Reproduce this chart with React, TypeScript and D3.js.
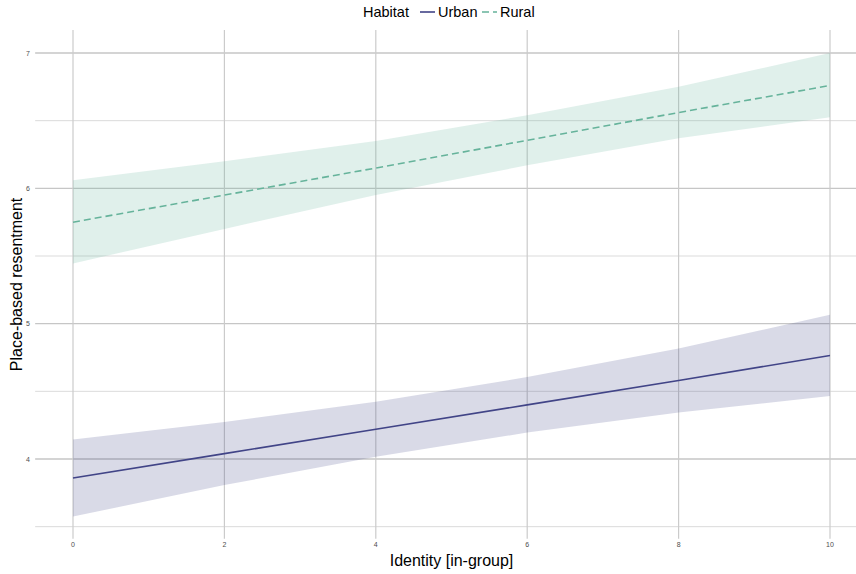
import React from "react";
import * as d3 from "d3";

const xValues = [0, 2, 4, 6, 8, 10];
const urbanFit = [3.86, 4.04, 4.22, 4.4, 4.58, 4.765];
const urbanUpper = [4.145, 4.273, 4.423, 4.605, 4.817, 5.065];
const urbanLower = [3.575, 3.807, 4.017, 4.195, 4.343, 4.465];
const ruralFit = [5.75, 5.95, 6.15, 6.355, 6.56, 6.76];
const ruralUpper = [6.06, 6.2, 6.35, 6.54, 6.75, 7.0];
const ruralLower = [5.445, 5.7, 5.95, 6.17, 6.37, 6.525];

const xTicks = [0, 2, 4, 6, 8, 10];
const yMajor = [4, 5, 6, 7];
const yMinor = [3.5, 4.5, 5.5, 6.5];

const W = 856;
const H = 574;

export default function App() {
  const x = d3.scaleLinear().domain([0, 10]).range([73, 830]);
  const y = d3.scaleLinear().domain([4, 7]).range([459, 53]);
  const panelLeft = x(-0.5);
  const panelRight = x(10.5);
  const panelTop = y(7.17);
  const panelBottom = y(3.41);

  const area = (up: number[], lo: number[]) =>
    d3
      .area<number>()
      .x((_, i) => x(xValues[i]))
      .y0((_, i) => y(lo[i]))
      .y1((_, i) => y(up[i]))(xValues) as string;
  const line = (v: number[]) =>
    d3
      .line<number>()
      .x((_, i) => x(xValues[i]))
      .y((_, i) => y(v[i]))(xValues) as string;

  const urbanColor = "#414487";
  const ruralColor = "#66b39b";
  const font = "'Liberation Sans', Arial, Helvetica, sans-serif";

  return (
    <svg
      width={W}
      height={H}
      style={{ position: "absolute", left: 0, top: 0, background: "#fff" }}
      fontFamily={font}
    >
      <rect width={W} height={H} fill="#fff" />
      {/* grid */}
      {yMinor.map((v) => (
        <line key={"mi" + v} x1={panelLeft} x2={panelRight} y1={y(v)} y2={y(v)} stroke="#d2d2d2" strokeWidth={0.8} />
      ))}
      {yMajor.map((v) => (
        <line key={"ma" + v} x1={panelLeft} x2={panelRight} y1={y(v)} y2={y(v)} stroke="#c6c6c6" strokeWidth={1.4} />
      ))}
      {xTicks.map((v) => (
        <line key={"vx" + v} x1={x(v)} x2={x(v)} y1={panelTop} y2={panelBottom} stroke="#cbcbcb" strokeWidth={1.2} />
      ))}
      {/* ribbons */}
      <path d={area(urbanUpper, urbanLower)} fill={urbanColor} fillOpacity={0.2} />
      <path d={area(ruralUpper, ruralLower)} fill={ruralColor} fillOpacity={0.2} />
      {/* lines */}
      <path d={line(urbanFit)} fill="none" stroke={urbanColor} strokeWidth={1.6} />
      <path d={line(ruralFit)} fill="none" stroke={ruralColor} strokeWidth={1.6} strokeDasharray="7,4" />
      {/* tick labels */}
      {xTicks.map((v) => (
        <text key={"tx" + v} x={x(v)} y={547} fontSize={7} fill="#4d4d4d" textAnchor="middle">
          {v}
        </text>
      ))}
      {yMajor.map((v) => (
        <text key={"ty" + v} x={30} y={y(v) + 2.5} fontSize={7} fill="#4d4d4d" textAnchor="end">
          {v}
        </text>
      ))}
      {/* axis titles */}
      <text x={(panelLeft + panelRight) / 2} y={566} fontSize={16} textAnchor="middle" fill="#000">
        Identity [in-group]
      </text>
      <text
        transform={`translate(22, ${(panelTop + panelBottom) / 2}) rotate(-90)`}
        fontSize={16}
        textAnchor="middle"
        fill="#000"
      >
        Place-based resentment
      </text>
      {/* legend */}
      <text x={363} y={17} fontSize={14.5} fill="#000">Habitat</text>
      <line x1={420} x2={435} y1={12} y2={12} stroke={urbanColor} strokeWidth={1.6} />
      <text x={438} y={17} fontSize={14.5} fill="#000">Urban</text>
      <line x1={482} x2={497} y1={12} y2={12} stroke={ruralColor} strokeWidth={1.6} strokeDasharray="7,4" />
      <text x={500} y={17} fontSize={14.5} fill="#000">Rural</text>
    </svg>
  );
}
